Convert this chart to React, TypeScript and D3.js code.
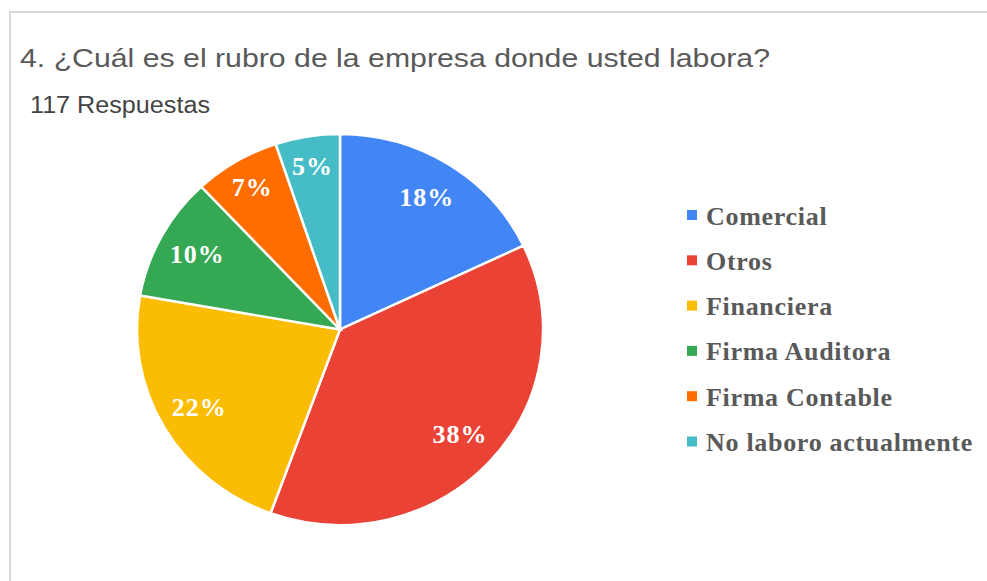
import { useEffect, useRef } from 'react';
import * as d3 from 'd3';

// respuestas por rubro (117 en total)
const categories = ['Comercial', 'Otros', 'Financiera', 'Firma Auditora', 'Firma Contable', 'No laboro actualmente'];
const counts = [21, 44, 26, 12, 8, 6];
const colors = ['#4285F4', '#EA4335', '#FBBC04', '#34A853', '#FF6D01', '#46BDC6'];
const title = '4. ¿Cuál es el rubro de la empresa donde usted labora?';
const subtitle = '117 Respuestas';

const App = () => {
  const ref = useRef<SVGSVGElement>(null);

  useEffect(() => {
    const svg = d3.select(ref.current);
    svg.selectAll('*').remove();

    const width = 987;
    const height = 581;
    const cx = 340;
    const cy = 329.5;
    const rx = 203;
    const ry = 195.5;

    // frame
    svg.append('path')
      .attr('d', `M10,${height} L10,12 L${width},12`)
      .attr('fill', 'none')
      .attr('stroke', '#d9d9d9')
      .attr('stroke-width', 2);

    svg.append('text')
      .attr('x', 20)
      .attr('y', 67)
      .attr('font-family', 'Liberation Sans, Arial, sans-serif')
      .attr('font-size', 26)
      .attr('textLength', 750)
      .attr('lengthAdjust', 'spacingAndGlyphs')
      .attr('fill', '#595959')
      .text(title);

    svg.append('text')
      .attr('x', 30)
      .attr('y', 112.5)
      .attr('font-family', 'Liberation Sans, Arial, sans-serif')
      .attr('font-size', 23)
      .attr('textLength', 180)
      .attr('lengthAdjust', 'spacingAndGlyphs')
      .attr('fill', '#444')
      .text(subtitle);

    const data = categories.map((c, i) => ({ name: c, value: counts[i], color: colors[i] }));
    const total = d3.sum(counts);
    const pie = d3.pie<any>().sort(null).value((d) => d.value);
    const arcs = pie(data);
    const arc = d3.arc<any>().innerRadius(0).outerRadius(rx);

    const g = svg.append('g')
      .attr('transform', `translate(${cx},${cy}) scale(1,${ry / rx})`);

    g.selectAll('path')
      .data(arcs)
      .enter()
      .append('path')
      .attr('d', arc)
      .attr('fill', (d) => d.data.color)
      .attr('stroke', '#fff')
      .attr('stroke-width', 2.5);

    // labels (not scaled, positioned on the ellipse)
    svg.selectAll('.lbl')
      .data(arcs)
      .enter()
      .append('text')
      .attr('class', 'lbl')
      .each(function (d) {
        const share = d.data.value / total;
        const k = share < 0.08 ? 0.845 : 0.8;
        const a = (d.startAngle + d.endAngle) / 2;
        d3.select(this)
          .attr('x', cx + Math.sin(a) * rx * k)
          .attr('y', cy - Math.cos(a) * ry * k);
      })
      .attr('text-anchor', 'middle')
      .attr('dominant-baseline', 'central')
      .attr('font-family', 'Liberation Serif, Times New Roman, serif')
      .attr('font-weight', 'bold')
      .attr('font-size', 26)
      .attr('letter-spacing', 1)
      .attr('fill', '#fff')
      .text((d) => `${Math.round((d.data.value / total) * 100)}%`);

    // legend
    const legend = svg.append('g').attr('transform', 'translate(687,216)');
    const row = legend.selectAll('g')
      .data(data)
      .enter()
      .append('g')
      .attr('transform', (_, i) => `translate(0,${i * 45.3})`);

    row.append('rect')
      .attr('x', 0)
      .attr('y', -6)
      .attr('width', 10)
      .attr('height', 10)
      .attr('fill', (d) => d.color);

    row.append('text')
      .attr('x', 19)
      .attr('y', 0)
      .attr('dominant-baseline', 'central')
      .attr('font-family', 'Liberation Serif, Times New Roman, serif')
      .attr('font-weight', 'bold')
      .attr('font-size', 26)
      .attr('letter-spacing', 0.7)
      .attr('fill', '#595959')
      .text((d) => d.name);
  }, []);

  return (
    <div style={{ position: 'absolute', left: 0, top: 0 }}>
      <svg ref={ref} width={987} height={581} style={{ display: 'block', background: '#fff' }} />
    </div>
  );
};

export default App;
